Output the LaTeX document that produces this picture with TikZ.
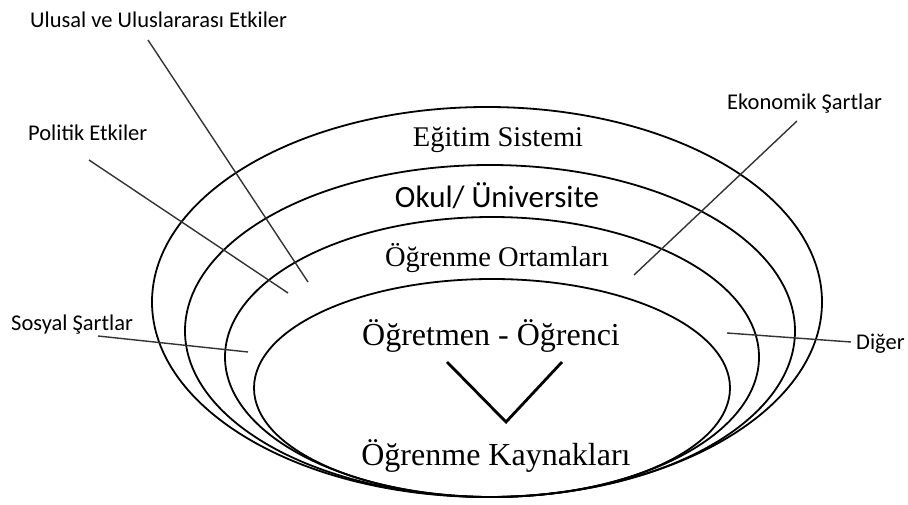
\documentclass[tikz,border=0pt]{standalone}
\usepackage{fontspec}
\setmainfont{Liberation Serif}
\newfontfamily\sansfam{Carlito}
\begin{document}
\begin{tikzpicture}[x=1pt,y=-1pt,
  ring/.style={line width=1.8pt},
  leader/.style={line width=1.4pt, draw=black!80},
  vline/.style={line width=2.8pt},
  title/.style={inner sep=0, anchor=base, font=\fontsize{28.5}{32}\selectfont},
  innertitle/.style={inner sep=0, anchor=base, font=\fontsize{32}{36}\selectfont},
  sanstitle/.style={inner sep=0, anchor=base, font=\sansfam\fontsize{31}{35}\selectfont},
  outlabel/.style={inner sep=0, anchor=base west, font=\sansfam\fontsize{22.5}{26}\selectfont}
]
\useasboundingbox (0,0) rectangle (908,505);

% nested rings, all resting on a common bottom point
\draw[ring] (487,302) ellipse [x radius=335, y radius=195];
\draw[ring] (490,331) ellipse [x radius=305, y radius=166];
\draw[ring] (492,357) ellipse [x radius=267, y radius=140];
\draw[ring] (492,388) ellipse [x radius=238, y radius=109];

% ring titles
\node[title]      (egitim)   at (498,147) {Eğitim Sistemi};
\node[sanstitle]  (okul)     at (497,208) {Okul/ Üniversite};
\node[title]      (ortam)    at (497,267) {Öğrenme Ortamları};
\node[innertitle] (ogretmen) at (491,345) {Öğretmen - Öğrenci};
\node[innertitle] (kaynak)   at (496,465) {Öğrenme Kaynakları};

% link between teacher-student and learning resources
\coordinate (vl) at (447,362);
\coordinate (vb) at (506,422);
\coordinate (vr) at (562,362);
\draw[vline] (vl) -- (vb) -- (vr);

% outside influences
\node[outlabel] (ulusal)   at (30,28)   {Ulusal ve Uluslararası Etkiler};
\node[outlabel] (politik)  at (28,141)  {Politik Etkiler};
\node[outlabel] (ekonomik) at (727,110) {Ekonomik Şartlar};
\node[outlabel] (sosyal)   at (11,330)  {Sosyal Şartlar};
\node[outlabel] (diger)    at (856,349) {Diğer};

% leader lines into the rings
\coordinate (ulusalA) at (148,40);   \coordinate (ulusalB) at (308,282);
\coordinate (politikA) at (89,160);  \coordinate (politikB) at (288,293);
\coordinate (ekoA) at (797,121);     \coordinate (ekoB) at (634,275);
\coordinate (sosyalA) at (98,336);   \coordinate (sosyalB) at (248,352);
\coordinate (digerA) at (851,342);   \coordinate (digerB) at (727,333);
\draw[leader] (ulusalA) -- (ulusalB);
\draw[leader] (politikA) -- (politikB);
\draw[leader] (ekoA) -- (ekoB);
\draw[leader] (sosyalA) -- (sosyalB);
\draw[leader] (digerA) -- (digerB);
\end{tikzpicture}
\end{document}
